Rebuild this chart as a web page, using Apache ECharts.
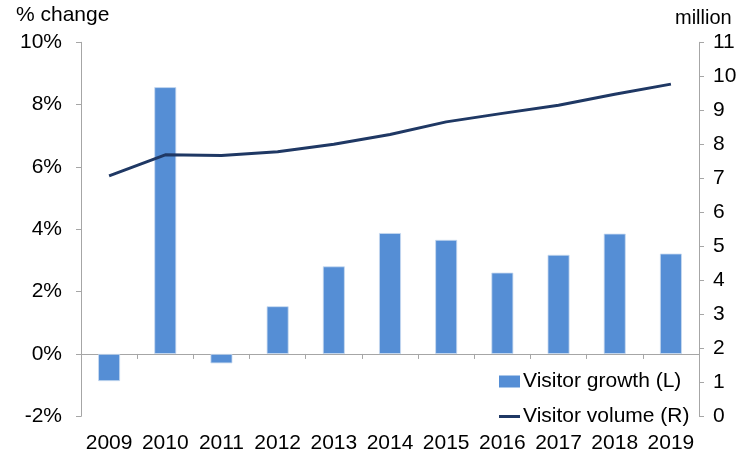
<!DOCTYPE html>
<html>
<head>
<meta charset="utf-8">
<script src="https://cdn.jsdelivr.net/npm/echarts@6/dist/echarts.min.js"></script>
<style>
  html, body { margin: 0; padding: 0; background: #fff; }
  #chart { width: 750px; height: 456px; }
</style>
</head>
<body>
<div id="chart"></div>
<script>
// Annual visitor statistics
const years = ['2009', '2010', '2011', '2012', '2013', '2014', '2015', '2016', '2017', '2018', '2019'];
const visitorGrowth = [-0.87, 8.56, -0.3, 1.53, 2.81, 3.88, 3.66, 2.61, 3.18, 3.86, 3.22]; // % change
const visitorVolume = [7.07, 7.69, 7.67, 7.78, 8.0, 8.29, 8.66, 8.91, 9.15, 9.47, 9.77]; // million

const FONT = 'Liberation Sans, Arial, sans-serif';
const FS = 21;
const AXIS_GREY = '#A6A6A6';
const BAR_BLUE = '#558ED5';
const LINE_NAVY = '#1F3864';

const chart = echarts.init(document.getElementById('chart'), null, { renderer: 'canvas' });

chart.setOption({
  animation: false,
  backgroundColor: '#fff',
  textStyle: { fontFamily: FONT },
  grid: { left: 81, right: 51, top: 42.3, bottom: 39.7, containLabel: false },
  graphic: [
    { type: 'text', left: 16, top: 5, style: { text: '% change', font: FS + 'px ' + FONT, fill: '#000' } },
    { type: 'text', left: 675, top: 8, style: { text: 'million', font: '20px ' + FONT, fill: '#000' } }
  ],
  legend: [
    {
      orient: 'vertical',
      left: 494,
      top: 366,
      itemWidth: 21,
      itemHeight: 12,
      itemGap: 0,
      textStyle: { fontFamily: FONT, fontSize: FS, color: '#000', padding: [0, 0, 0, -2] },
      data: [{ name: 'Visitor growth (L)', icon: 'rect', itemStyle: { borderWidth: 0 } }]
    },
    {
      orient: 'vertical',
      left: 494,
      top: 401,
      itemWidth: 21,
      itemHeight: 3,
      itemGap: 0,
      textStyle: { fontFamily: FONT, fontSize: FS, color: '#000', padding: [0, 0, 0, -2] },
      data: [{ name: 'Visitor volume (R)', icon: 'rect' }]
    }
  ],
  xAxis: [
    {
      type: 'category',
      data: years,
      axisLine: { onZero: true, lineStyle: { color: AXIS_GREY, width: 1 } },
      axisTick: { show: true, length: 5, lineStyle: { color: AXIS_GREY } },
      axisLabel: { show: false },
      splitLine: { show: false }
    },
    {
      type: 'category',
      data: years,
      position: 'bottom',
      axisLine: { show: false },
      axisTick: { show: false },
      axisLabel: { show: true, interval: 0, hideOverlap: false, margin: 16, fontFamily: FONT, fontSize: FS, color: '#000' },
      splitLine: { show: false }
    }
  ],
  yAxis: [
    {
      type: 'value',
      min: -2,
      max: 10,
      interval: 2,
      axisLine: { show: true, lineStyle: { color: AXIS_GREY, width: 1 } },
      axisTick: { show: true, length: 5, lineStyle: { color: AXIS_GREY } },
      axisLabel: { margin: 19, fontFamily: FONT, fontSize: FS, color: '#000', formatter: v => v + '%' },
      splitLine: { show: false }
    },
    {
      type: 'value',
      min: 0,
      max: 11,
      interval: 1,
      position: 'right',
      axisLine: { show: true, lineStyle: { color: AXIS_GREY, width: 1 } },
      axisTick: { show: true, length: 5, lineStyle: { color: AXIS_GREY } },
      axisLabel: { margin: 14, fontFamily: FONT, fontSize: FS, color: '#000' },
      splitLine: { show: false }
    }
  ],
  series: [
    {
      name: 'Visitor growth (L)',
      type: 'bar',
      xAxisIndex: 0,
      yAxisIndex: 0,
      data: visitorGrowth,
      barWidth: '39%',
      itemStyle: { color: BAR_BLUE, borderColor: '#C9DAF0', borderWidth: 0.8 }
    },
    {
      name: 'Visitor volume (R)',
      type: 'line',
      xAxisIndex: 0,
      yAxisIndex: 1,
      data: visitorVolume,
      symbol: 'none',
      lineStyle: { color: LINE_NAVY, width: 3 },
      itemStyle: { color: LINE_NAVY },
      z: 5
    }
  ]
});
</script>
</body>
</html>
